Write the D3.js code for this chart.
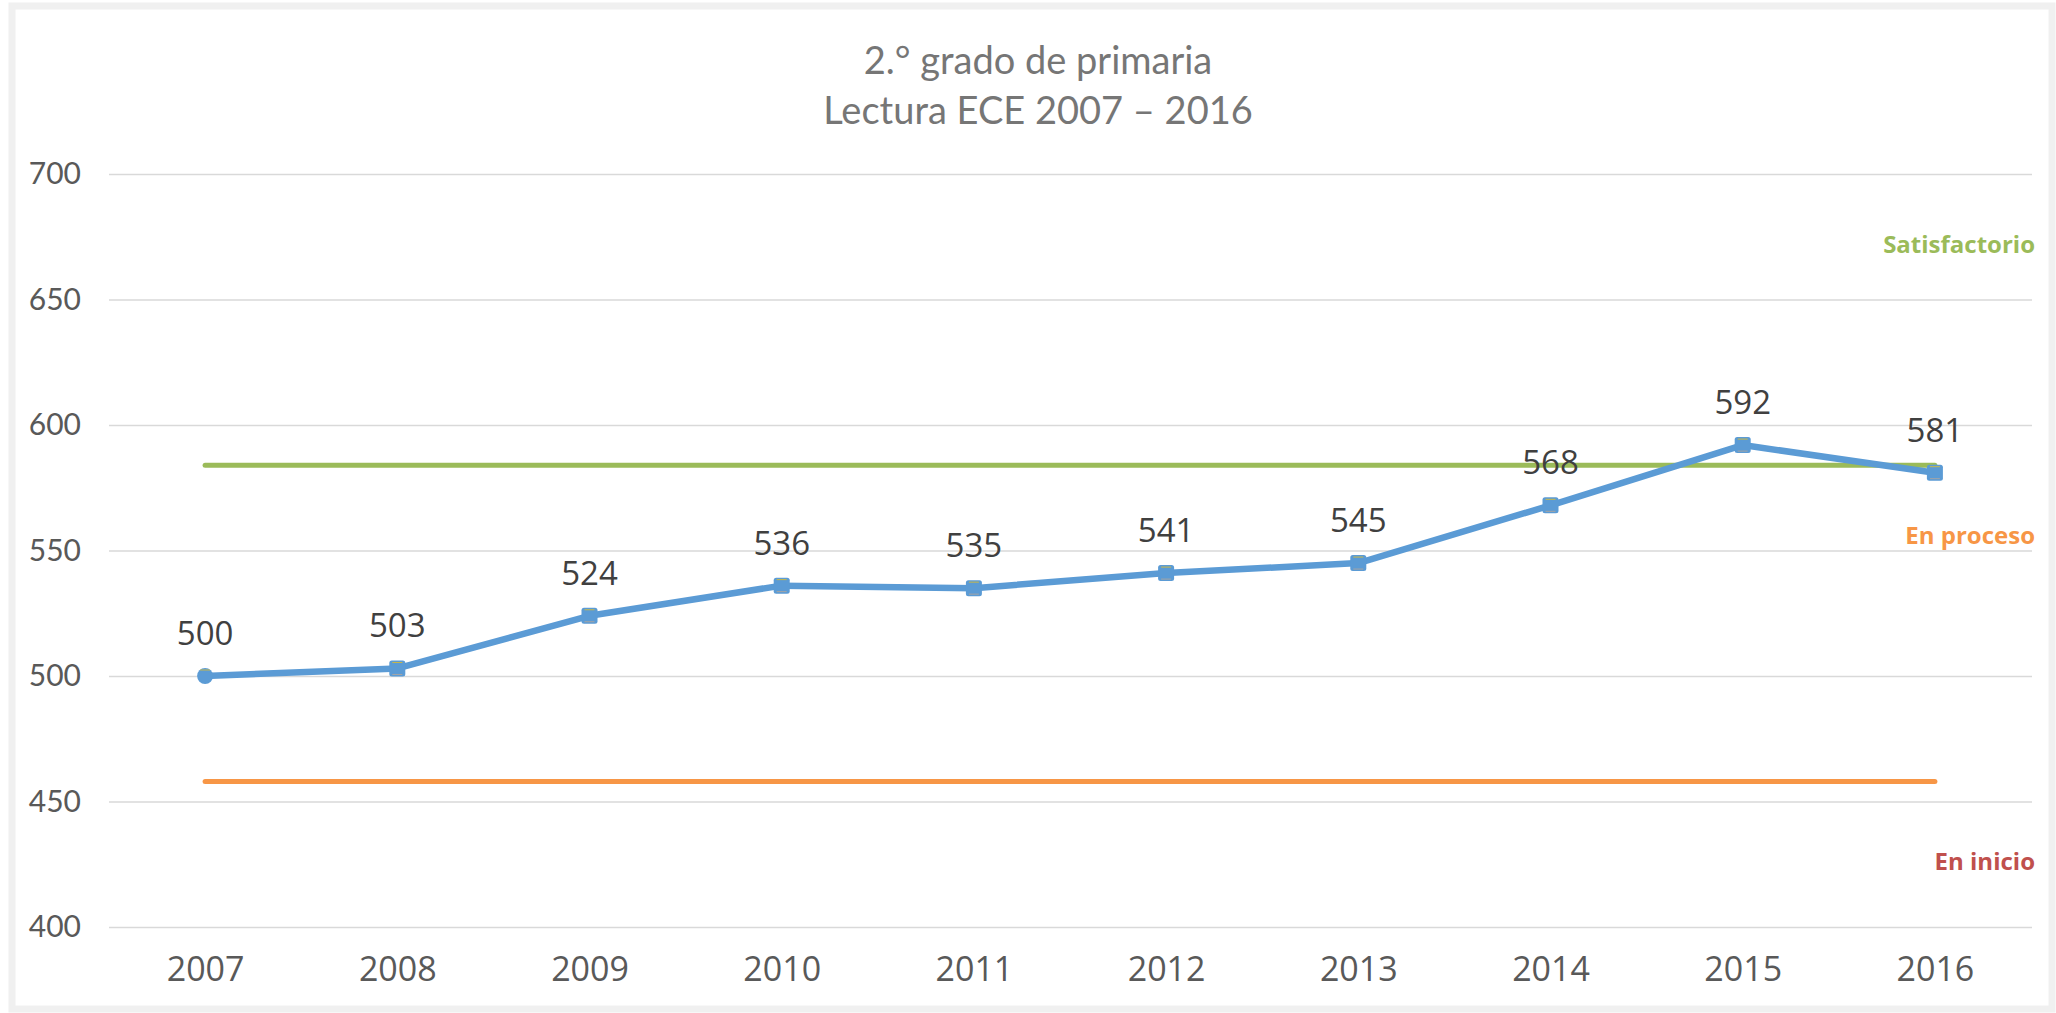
<!DOCTYPE html>
<html>
<head>
<meta charset="utf-8">
<script src="https://cdn.jsdelivr.net/npm/d3@7"></script>
<style>
  body { margin: 0; background: #ffffff; }
  svg { display: block; }
</style>
</head>
<body>
<script>
var svgWidth = 2056;
var svgHeight = 1013;

// data
var years = ["2007", "2008", "2009", "2010", "2011", "2012", "2013", "2014", "2015", "2016"];
var scores = [500, 503, 524, 536, 535, 541, 545, 568, 592, 581];
var yTicks = [400, 450, 500, 550, 600, 650, 700];
var limitValues = [584, 458];          // Satisfactorio / En proceso thresholds
var levelNames = ["Satisfactorio", "En proceso", "En inicio"];
var levelLabelAt = [672, 556, 426];    // where the level names sit on the y axis
var titleLines = ["2.\u00b0 grado de primaria", "Lectura ECE 2007 \u2013 2016"];

var narrow = "Lato, 'Open Sans', sans-serif";
var wide = "'Open Sans', 'Noto Sans', sans-serif";

var margin = { top: 174, right: 24, bottom: 86, left: 109 };

var svg = d3.select("body")
  .append("svg")
  .attr("width", svgWidth)
  .attr("height", svgHeight);

// light grey frame round the chart
svg.append("rect")
  .attr("x", 12)
  .attr("y", 6)
  .attr("width", svgWidth - 16)
  .attr("height", svgHeight - 10)
  .attr("fill", "#ffffff")
  .attr("stroke", "#f0f0f0")
  .attr("stroke-width", 7);

var xScale = d3.scalePoint()
  .domain(years)
  .range([margin.left, svgWidth - margin.right - 1])
  .padding(0.5);

var yScale = d3.scaleLinear()
  .domain([400, 700])
  .range([svgHeight - margin.bottom, margin.top]);

// title
svg.append("text")
  .attr("x", 1038)
  .attr("y", 74)
  .attr("text-anchor", "middle")
  .style("font-family", narrow)
  .style("font-size", "38px")
  .attr("fill", "#767676")
  .selectAll("tspan")
  .data(titleLines)
  .enter()
  .append("tspan")
  .attr("x", 1038)
  .attr("dy", (d, i) => i === 0 ? 0 : 50)
  .text(d => d);

// y axis with gridlines
var leftAxis = d3.axisLeft(yScale)
  .tickValues(yTicks)
  .tickSize(-(svgWidth - margin.right - margin.left))
  .tickPadding(28);

var yAxis = svg.append("g")
  .attr("transform", `translate(${margin.left}, 0)`)
  .call(leftAxis);
yAxis.select(".domain").remove();
yAxis.selectAll(".tick line")
  .attr("stroke", "#d9d9d9")
  .attr("stroke-width", 1.5);
yAxis.selectAll(".tick text")
  .style("font-family", narrow)
  .style("font-size", "30px")
  .attr("fill", "#595959");

// x axis labels
var bottomAxis = d3.axisBottom(xScale).tickSize(0).tickPadding(30);
var xAxis = svg.append("g")
  .attr("transform", `translate(0, ${svgHeight - margin.bottom})`)
  .call(bottomAxis);
xAxis.select(".domain").remove();
xAxis.selectAll(".tick text")
  .style("font-family", wide)
  .style("font-size", "34px")
  .attr("fill", "#595959");

// threshold lines
var limitColors = ["#9bbb59", "#f79646"];
svg.selectAll(".limit")
  .data(limitValues)
  .enter()
  .append("line")
  .attr("class", "limit")
  .attr("x1", xScale(years[0]))
  .attr("x2", xScale(years[years.length - 1]))
  .attr("y1", d => yScale(d))
  .attr("y2", d => yScale(d))
  .attr("stroke", (d, i) => limitColors[i])
  .attr("stroke-width", 5)
  .attr("stroke-linecap", "round");

// level names
var levelColors = ["#9bbb59", "#f79646", "#c0504d"];
svg.selectAll(".level")
  .data(levelNames)
  .enter()
  .append("text")
  .attr("class", "level")
  .attr("x", 2035)
  .attr("y", (d, i) => yScale(levelLabelAt[i]))
  .attr("dy", "0.35em")
  .attr("text-anchor", "end")
  .style("font-family", wide)
  .style("font-weight", "bold")
  .style("font-size", "24px")
  .attr("fill", (d, i) => levelColors[i])
  .text(d => d);

// score line
var points = years.map((y, i) => ({ year: y, score: scores[i] }));
var drawLine = d3.line()
  .x(d => xScale(d.year))
  .y(d => yScale(d.score));

svg.append("path")
  .attr("d", drawLine(points))
  .attr("fill", "none")
  .attr("stroke", "#5b9bd5")
  .attr("stroke-width", 6.5)
  .attr("stroke-linejoin", "round");

var marks = svg.selectAll(".mark")
  .data(points)
  .enter()
  .append("g")
  .attr("class", "mark")
  .attr("transform", d => `translate(${xScale(d.year)}, ${yScale(d.score)})`);

marks.append("rect")
  .attr("x", -8)
  .attr("y", -8)
  .attr("width", 16)
  .attr("height", 16)
  .attr("rx", (d, i) => i === 0 ? 8 : 2.5)
  .attr("fill", "#5b9bd5");

marks.append("line")
  .attr("x1", -5).attr("x2", 5)
  .attr("y1", -6).attr("y2", -6)
  .attr("stroke", "#c9b84a")
  .attr("stroke-width", 1);

marks.filter((d, i) => i > 0).append("line")
  .attr("x1", -5).attr("x2", 5)
  .attr("y1", 6).attr("y2", 6)
  .attr("stroke", "#a5a5a5")
  .attr("stroke-width", 1);

// data labels
marks.append("text")
  .attr("y", -31)
  .attr("text-anchor", "middle")
  .style("font-family", wide)
  .style("font-size", "33px")
  .attr("fill", "#404040")
  .text(d => d.score);
</script>
</body>
</html>
